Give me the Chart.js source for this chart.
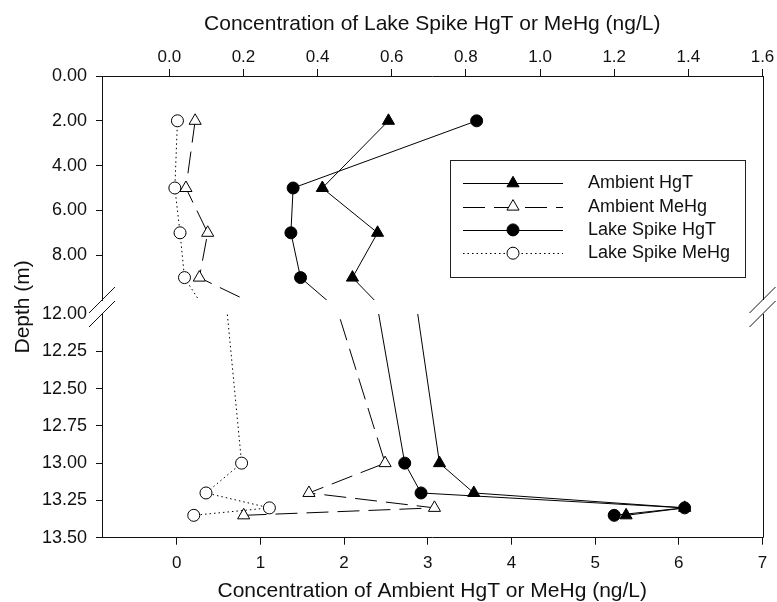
<!DOCTYPE html>
<html><head><meta charset="utf-8">
<script src="https://cdn.jsdelivr.net/npm/chart.js@4.4.1/dist/chart.umd.min.js"></script>
<style>
html,body{margin:0;padding:0;background:#fff;}
#wrap{position:relative;width:777px;height:602px;background:#fff;}
canvas{position:absolute;left:0;top:0;}
</style></head>
<body><div id="wrap"><canvas id="upper" width="777" height="602"></canvas><canvas id="lower" width="777" height="602"></canvas></div>
<script>
// ---- data ----
const depths        = [2, 5, 7, 9, 13.0, 13.2, 13.3, 13.35];
const ambientHgT    = [2.53, 1.74, 2.40, 2.10, 3.14, 3.55, 6.07, 5.37];
const ambientMeHg   = [0.22, 0.11, 0.37, 0.27, 2.49, 1.58, 3.08, 0.80];
const lakeSpikeHgT  = [0.829, 0.334, 0.328, 0.354, 0.635, 0.679, 1.390, 1.200];
const lakeSpikeMeHg = [0.022, 0.015, 0.029, 0.041, 0.195, 0.099, 0.270, 0.066];
const seriesNames   = ['Ambient HgT', 'Ambient MeHg', 'Lake Spike HgT', 'Lake Spike MeHg'];
const ambientTicks    = [0, 1, 2, 3, 4, 5, 6, 7];
const lakeTicks       = [0.0, 0.2, 0.4, 0.6, 0.8, 1.0, 1.2, 1.4, 1.6];
const upperDepthTicks = [0, 2, 4, 6, 8];
const lowerDepthTicks = [12.00, 12.25, 12.50, 12.75, 13.00, 13.25, 13.50];
const ambientRange    = [-0.893, 7];
const lakeRange       = [-0.1815, 1.6];
const upperDepthRange = [0, 10];
const lowerDepthRange = [12, 13.5];
const titles = {
  top: 'Concentration of Lake Spike HgT or MeHg (ng/L)',
  bottom: 'Concentration of Ambient HgT or MeHg (ng/L)',
  y: 'Depth (m)'
};

// ---- styling ----
const FONT = "'Liberation Sans', Arial, Helvetica, sans-serif";
const TEXT = '#111';
const AXIS = '#111';

function pts(vals) { return vals.map((v, i) => ({ x: v, y: depths[i] })); }
function makeDatasets() {
  const common = { showLine: true, borderColor: '#000', pointBorderColor: '#000', borderWidth: 1, pointBorderWidth: 1, yAxisID: 'y' };
  return [
    Object.assign({}, common, { label: seriesNames[0], data: pts(ambientHgT), xAxisID: 'x', pointStyle: 'triangle', pointRadius: 7, pointBackgroundColor: '#000', backgroundColor: '#000', order: 4 }),
    Object.assign({}, common, { label: seriesNames[1], data: pts(ambientMeHg), xAxisID: 'x', pointStyle: 'triangle', pointRadius: 7, pointBackgroundColor: '#fff', backgroundColor: '#fff', borderDash: [22, 9], order: 3 }),
    Object.assign({}, common, { label: seriesNames[2], data: pts(lakeSpikeHgT), xAxisID: 'x2', pointStyle: 'circle', pointRadius: 6, pointBackgroundColor: '#000', backgroundColor: '#000', order: 1 }),
    Object.assign({}, common, { label: seriesNames[3], data: pts(lakeSpikeMeHg), xAxisID: 'x2', pointStyle: 'circle', pointRadius: 6, pointBackgroundColor: '#fff', backgroundColor: '#fff', borderDash: [1.5, 3], order: 2 })
  ];
}
function fixedTicks(list) { return scale => { scale.ticks = list.map(v => ({ value: v })); }; }
function axisGrid(len, tickColor) {
  return { drawOnChartArea: false, drawTicks: true, tickLength: len, tickWidth: 1, tickColor: tickColor || AXIS };
}
const border = { display: true, color: AXIS, width: 1 };

// right frame edge
const framePlugin = {
  id: 'frame',
  afterDraw(chart) {
    const a = chart.chartArea, ctx = chart.ctx;
    ctx.save();
    ctx.strokeStyle = AXIS; ctx.lineWidth = 1;
    ctx.beginPath();
    const x = Math.round(a.right) + 0.5;
    ctx.moveTo(x, a.top); ctx.lineTo(x, a.bottom);
    ctx.stroke();
    ctx.restore();
  }
};

function drawMarker(ctx, ds, x, y) {
  ctx.save();
  ctx.setLineDash([]);
  ctx.fillStyle = ds.pointBackgroundColor;
  ctx.strokeStyle = ds.pointBorderColor;
  ctx.lineWidth = ds.pointBorderWidth;
  Chart.helpers.drawPoint(ctx, { pointStyle: ds.pointStyle, radius: ds.pointRadius, rotation: 0, borderWidth: ds.pointBorderWidth }, x, y);
  ctx.restore();
}

const legendPlugin = {
  id: 'customLegend',
  afterDraw(chart) {
    const a = chart.chartArea, ctx = chart.ctx;
    const left = a.right - 312.5, top = a.top + 84, w = 295, h = 117;
    ctx.save();
    ctx.fillStyle = '#fff';
    ctx.fillRect(left, top, w, h);
    ctx.strokeStyle = '#222'; ctx.lineWidth = 1;
    ctx.strokeRect(Math.round(left) + 0.5, Math.round(top) + 0.5, w, h);
    chart.data.datasets.forEach((ds, i) => {
      const y = top + 23.3 * (i + 1);
      ctx.save();
      ctx.strokeStyle = ds.borderColor; ctx.lineWidth = ds.borderWidth;
      ctx.setLineDash(ds.borderDash || []);
      ctx.beginPath();
      ctx.moveTo(left + 13, Math.round(y) + 0.5); ctx.lineTo(left + 113, Math.round(y) + 0.5);
      ctx.stroke();
      ctx.restore();
      drawMarker(ctx, ds, left + 63, y);
      ctx.fillStyle = TEXT;
      ctx.font = '18px ' + FONT;
      ctx.textAlign = 'left'; ctx.textBaseline = 'middle';
      ctx.fillText(ds.label, left + 138, y);
    });
    ctx.restore();
  }
};

const upper = new Chart(document.getElementById('upper'), {
  type: 'scatter',
  data: { datasets: makeDatasets() },
  plugins: [framePlugin, legendPlugin],
  options: {
    responsive: false, animation: false, devicePixelRatio: 1, events: [],
    layout: { autoPadding: false, padding: { left: 0, top: 0, right: 14.5, bottom: 302 } },
    plugins: { legend: { display: false }, tooltip: { enabled: false } },
    scales: {
      x: { type: 'linear', position: 'bottom', display: false, min: ambientRange[0], max: ambientRange[1] },
      x2: {
        type: 'linear', position: 'top', min: lakeRange[0], max: lakeRange[1],
        afterBuildTicks: fixedTicks(lakeTicks), afterFit: s => { s.height = 76; },
        grid: axisGrid(7), border: border,
        ticks: { font: { family: FONT, size: 17 }, color: TEXT, padding: 1, maxRotation: 0, autoSkip: false, callback: v => Number(v).toFixed(1) },
        title: { display: true, text: titles.top, color: TEXT, font: { family: FONT, size: 21, lineHeight: 1.2 }, padding: { top: 12, bottom: 0 } }
      },
      y: {
        type: 'linear', position: 'left', reverse: true, min: upperDepthRange[0], max: upperDepthRange[1],
        afterBuildTicks: fixedTicks(upperDepthTicks), afterFit: s => { s.width = 102; },
        grid: axisGrid(6), border: border,
        ticks: { font: { family: FONT, size: 18 }, color: TEXT, padding: 9, autoSkip: false, callback: v => Number(v).toFixed(2) }
      }
    }
  }
});

const breakPlugin = {
  id: 'axisBreak',
  afterDraw(chart) {
    const a = chart.chartArea, ctx = chart.ctx;
    const ys = [upper.chartArea.bottom, a.top];
    ctx.save();
    ctx.strokeStyle = AXIS; ctx.lineWidth = 1;
    [a.left, a.right].forEach(x => {
      ys.forEach(y => {
        ctx.beginPath();
        ctx.moveTo(x - 13, y + 13); ctx.lineTo(x + 13, y - 13);
        ctx.stroke();
      });
    });
    // y-axis title centred on the full plot height
    const cy = (upper.chartArea.top + a.bottom) / 2;
    ctx.translate(23, cy);
    ctx.rotate(-Math.PI / 2);
    ctx.fillStyle = TEXT;
    ctx.font = '21px ' + FONT;
    ctx.textAlign = 'center'; ctx.textBaseline = 'middle';
    ctx.fillText(titles.y, 0, 0);
    ctx.restore();
  }
};

const lower = new Chart(document.getElementById('lower'), {
  type: 'scatter',
  data: { datasets: makeDatasets() },
  plugins: [framePlugin, breakPlugin],
  options: {
    responsive: false, animation: false, devicePixelRatio: 1, events: [],
    layout: { autoPadding: false, padding: { left: 0, top: 314, right: 14.5, bottom: 0 } },
    plugins: { legend: { display: false }, tooltip: { enabled: false } },
    scales: {
      x: {
        type: 'linear', position: 'bottom', min: ambientRange[0], max: ambientRange[1],
        afterBuildTicks: fixedTicks(ambientTicks), afterFit: s => { s.height = 64.3; },
        grid: axisGrid(7), border: border,
        ticks: { font: { family: FONT, size: 17 }, color: TEXT, padding: 8, maxRotation: 0, autoSkip: false, callback: v => String(v) },
        title: { display: true, text: titles.bottom, color: TEXT, font: { family: FONT, size: 21, lineHeight: 1 }, padding: { top: 0, bottom: 0 } }
      },
      x2: { type: 'linear', position: 'top', display: false, min: lakeRange[0], max: lakeRange[1] },
      y: {
        type: 'linear', position: 'left', reverse: true, min: lowerDepthRange[0], max: lowerDepthRange[1],
        afterBuildTicks: fixedTicks(lowerDepthTicks), afterFit: s => { s.width = 102; },
        grid: axisGrid(6, ctx => (ctx.tick && ctx.tick.value === lowerDepthRange[0]) ? 'rgba(0,0,0,0)' : AXIS),
        border: border,
        ticks: { font: { family: FONT, size: 18 }, color: TEXT, padding: 9, autoSkip: false, callback: v => Number(v).toFixed(2) }
      }
    }
  }
});
</script>
</body></html>
